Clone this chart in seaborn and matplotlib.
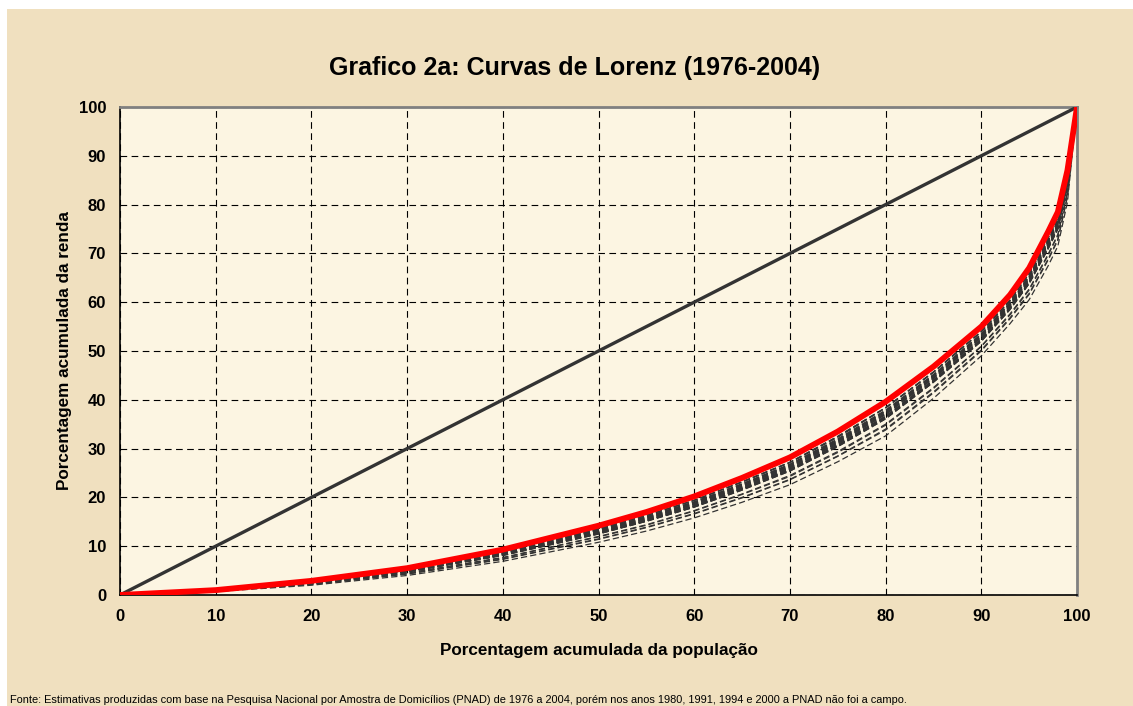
import pandas as pd
import seaborn as sns
import matplotlib.pyplot as plt
from matplotlib.patches import Rectangle

# percentis acumulados da populacao
populacao = [0, 10, 20, 30, 40, 50, 55, 60, 65, 70, 75, 80, 85, 90, 93, 95, 97, 98, 99, 100]

# porcentagem acumulada da renda, por ano (PNAD)
renda_1976 = [0, 0.8, 2.2, 4.3, 7.4, 11.5, 13.9, 16.7, 20.0, 23.7, 28.5, 34.0, 41.6, 50.2, 56.8, 61.8, 68.9, 72.9, 81.8, 100]
renda_1977 = [0, 0.8, 2.2, 4.3, 7.3, 11.4, 13.8, 16.6, 19.9, 23.6, 28.4, 33.8, 41.4, 50.0, 56.6, 61.6, 68.7, 72.7, 81.6, 100]
renda_1978 = [0, 0.9, 2.5, 4.8, 8.1, 12.5, 15.1, 18.0, 21.5, 25.4, 30.4, 36.1, 43.6, 52.0, 58.5, 63.8, 71.0, 75.0, 83.8, 100]
renda_1979 = [0, 0.9, 2.6, 5.0, 8.5, 13.1, 15.7, 18.8, 22.4, 26.4, 31.5, 37.3, 44.7, 53.0, 59.5, 64.9, 72.2, 76.2, 84.9, 100]
renda_1981 = [0, 0.9, 2.7, 5.2, 8.8, 13.6, 16.3, 19.4, 23.1, 27.1, 32.3, 38.3, 45.6, 53.9, 60.3, 65.8, 73.2, 77.2, 85.8, 100]
renda_1982 = [0, 0.9, 2.6, 5.1, 8.6, 13.2, 15.8, 18.9, 22.5, 26.5, 31.6, 37.5, 44.9, 53.2, 59.7, 65.1, 72.4, 76.4, 85.1, 100]
renda_1983 = [0, 0.9, 2.6, 4.9, 8.4, 12.9, 15.5, 18.6, 22.1, 26.1, 31.2, 37.0, 44.4, 52.8, 59.2, 64.6, 71.9, 75.9, 84.6, 100]
renda_1984 = [0, 0.9, 2.7, 5.1, 8.7, 13.3, 16.0, 19.0, 22.7, 26.7, 31.8, 37.7, 45.0, 53.4, 59.8, 65.2, 72.6, 76.6, 85.2, 100]
renda_1985 = [0, 0.9, 2.5, 4.9, 8.3, 12.8, 15.4, 18.4, 22.0, 25.9, 31.0, 36.7, 44.1, 52.5, 59.0, 64.3, 71.6, 75.6, 84.3, 100]
renda_1986 = [0, 0.9, 2.7, 5.1, 8.7, 13.4, 16.0, 19.1, 22.8, 26.8, 32.0, 37.9, 45.2, 53.5, 60.0, 65.4, 72.8, 76.8, 85.4, 100]
renda_1987 = [0, 0.9, 2.5, 4.8, 8.2, 12.7, 15.2, 18.2, 21.8, 25.7, 30.7, 36.5, 43.9, 52.3, 58.8, 64.1, 71.4, 75.4, 84.1, 100]
renda_1988 = [0, 0.8, 2.3, 4.5, 7.6, 11.9, 14.3, 17.2, 20.6, 24.3, 29.2, 34.8, 42.3, 50.9, 57.4, 62.5, 69.7, 73.7, 82.5, 100]
renda_1989 = [0, 0.7, 2.0, 4.0, 6.9, 10.8, 13.1, 15.8, 19.0, 22.6, 27.3, 32.6, 40.3, 49.0, 55.6, 60.5, 67.5, 71.5, 80.5, 100]
renda_1990 = [0, 0.8, 2.3, 4.5, 7.7, 12.0, 14.4, 17.3, 20.7, 24.5, 29.4, 35.0, 42.5, 51.0, 57.6, 62.7, 69.9, 73.9, 82.7, 100]
renda_1992 = [0, 1.0, 2.7, 5.2, 8.9, 13.6, 16.3, 19.4, 23.2, 27.2, 32.5, 38.4, 45.7, 54.0, 60.4, 65.9, 73.3, 77.3, 85.9, 100]
renda_1993 = [0, 0.9, 2.5, 4.8, 8.1, 12.5, 15.1, 18.0, 21.5, 25.4, 30.4, 36.1, 43.6, 52.0, 58.5, 63.8, 71.0, 75.0, 83.8, 100]
renda_1995 = [0, 0.9, 2.5, 4.8, 8.2, 12.7, 15.2, 18.2, 21.8, 25.7, 30.7, 36.5, 43.9, 52.3, 58.8, 64.1, 71.4, 75.4, 84.1, 100]
renda_1996 = [0, 0.9, 2.5, 4.8, 8.2, 12.6, 15.2, 18.1, 21.7, 25.6, 30.6, 36.3, 43.7, 52.2, 58.7, 63.9, 71.2, 75.2, 83.9, 100]
renda_1997 = [0, 0.9, 2.5, 4.8, 8.2, 12.6, 15.2, 18.1, 21.7, 25.6, 30.6, 36.3, 43.7, 52.1, 58.7, 63.9, 71.2, 75.2, 83.9, 100]
renda_1998 = [0, 0.9, 2.5, 4.8, 8.2, 12.7, 15.3, 18.3, 21.8, 25.7, 30.8, 36.5, 43.9, 52.4, 58.9, 64.1, 71.4, 75.4, 84.1, 100]
renda_1999 = [0, 0.9, 2.6, 5.0, 8.5, 13.0, 15.7, 18.7, 22.3, 26.3, 31.4, 37.2, 44.6, 53.0, 59.4, 64.8, 72.1, 76.1, 84.8, 100]
renda_2001 = [0, 0.9, 2.6, 4.9, 8.4, 12.9, 15.5, 18.6, 22.1, 26.1, 31.2, 37.0, 44.4, 52.8, 59.2, 64.6, 71.9, 75.9, 84.6, 100]
renda_2002 = [0, 0.9, 2.7, 5.1, 8.7, 13.3, 16.0, 19.0, 22.7, 26.7, 31.8, 37.7, 45.0, 53.4, 59.8, 65.2, 72.6, 76.6, 85.2, 100]
renda_2003 = [0, 1.0, 2.7, 5.2, 8.9, 13.6, 16.3, 19.4, 23.2, 27.2, 32.5, 38.4, 45.7, 54.0, 60.4, 65.9, 73.3, 77.3, 85.9, 100]
renda_2004 = [0, 1.0, 2.9, 5.5, 9.3, 14.2, 17.0, 20.2, 24.0, 28.2, 33.5, 39.6, 46.8, 55.0, 61.5, 67.0, 74.5, 78.5, 87.0, 100]

igualdade = [0, 100]

anos_tracejados = {
    1976: renda_1976, 1977: renda_1977, 1978: renda_1978, 1979: renda_1979,
    1981: renda_1981, 1982: renda_1982, 1983: renda_1983, 1984: renda_1984,
    1985: renda_1985, 1986: renda_1986, 1987: renda_1987, 1988: renda_1988,
    1989: renda_1989, 1990: renda_1990, 1992: renda_1992, 1993: renda_1993,
    1995: renda_1995, 1996: renda_1996, 1997: renda_1997, 1998: renda_1998,
    1999: renda_1999, 2001: renda_2001, 2002: renda_2002, 2003: renda_2003,
}

rows = []
for ano, renda in anos_tracejados.items():
    for p, r in zip(populacao, renda):
        rows.append({'ano': ano, 'pop': p, 'renda': r})
df = pd.DataFrame(rows)

sns.set_theme(style='white')
plt.rcParams['font.family'] = ['Liberation Sans', 'DejaVu Sans']

fig = plt.figure(figsize=(11.33, 7.06), dpi=100, facecolor='white')
# fundo "pergaminho" com a faixa branca em cima e a esquerda
fig.patches.append(Rectangle((7 / 1133, 0), 1, 1 - 9 / 706, transform=fig.transFigure,
                             facecolor='#F0E0BF', edgecolor='none', zorder=-10))
ax = fig.add_axes([120 / 1133, 111 / 706, 957 / 1133, 488 / 706])
ax.set_facecolor('#FCF5E2')

sns.lineplot(data=df, x='pop', y='renda', units='ano', estimator=None,
             color='#333333', linewidth=0.9, linestyle=(0, (5, 2.5)), ax=ax,
             zorder=3)
sns.lineplot(x=igualdade, y=igualdade, color='#333333', linewidth=2.4, ax=ax, zorder=4)
sns.lineplot(x=populacao, y=renda_2004, color='#FF0000', linewidth=4.2, ax=ax,
             zorder=5, solid_capstyle='round', solid_joinstyle='round')

ax.set_xlim(0, 100)
ax.set_ylim(0, 100)
ax.set_xticks(range(0, 101, 10))
ax.set_yticks(range(0, 101, 10))
ax.grid(True, color='black', linestyle=(0, (6, 4)), linewidth=0.8)
ax.set_axisbelow(True)

for side in ['left', 'bottom']:
    ax.spines[side].set_color('black')
    ax.spines[side].set_linewidth(1.2)
for side in ['top', 'right']:
    ax.spines[side].set_color('#808080')
    ax.spines[side].set_linewidth(2)

ax.tick_params(axis='both', which='major', direction='out', length=5, width=1,
               color='black', labelcolor='black', pad=5, labelsize=12)
for lab in ax.get_xticklabels() + ax.get_yticklabels():
    lab.set_fontweight('bold')

ax.set_xlabel('Porcentagem acumulada da população', fontsize=12.3,
              fontweight='bold', labelpad=14, color='black')
ax.set_ylabel('Porcentagem acumulada da renda', fontsize=12.3,
              fontweight='bold', labelpad=5, color='black')
ax.set_title('Grafico 2a: Curvas de Lorenz (1976-2004)', fontsize=18,
             fontweight='bold', pad=23, color='black', x=0.4755)

fig.text(10 / 1133, 6 / 706,
         'Fonte: Estimativas produzidas com base na Pesquisa Nacional por Amostra de '
         'Domicílios (PNAD) de 1976 a 2004, porém nos anos 1980, 1991, 1994 e 2000 '
         'a PNAD não foi a campo.',
         fontsize=7.9, color='black', ha='left', va='center')

plt.savefig('out.png', dpi=100, facecolor=fig.get_facecolor())
